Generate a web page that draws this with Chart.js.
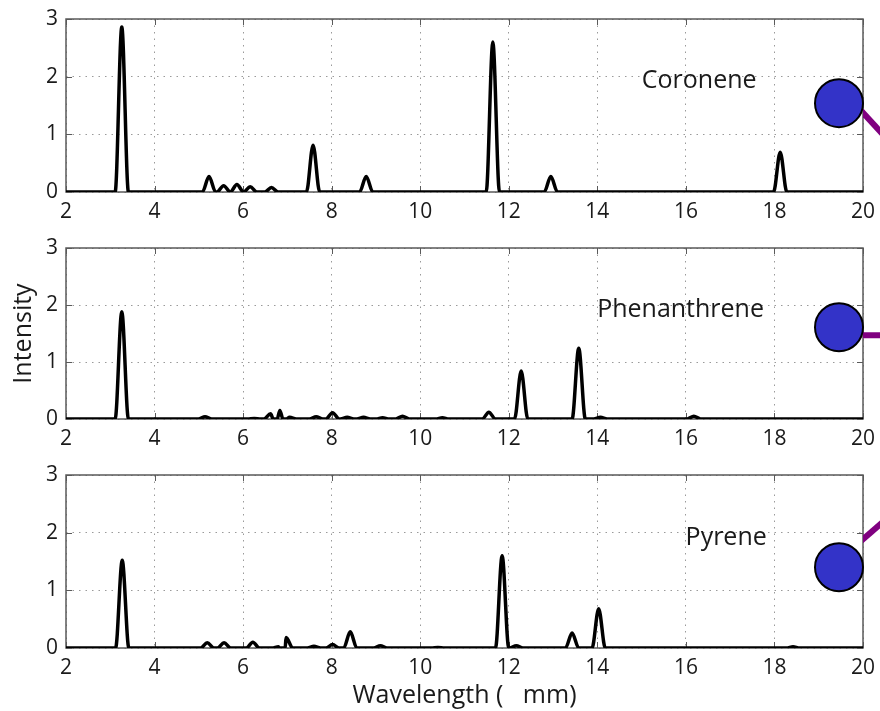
<!DOCTYPE html>
<html>
<head>
<meta charset="utf-8">
<title>PAH spectra</title>
<script src="https://cdn.jsdelivr.net/npm/chart.js@4.4.1/dist/chart.umd.min.js"></script>
<style>
  html, body { margin: 0; padding: 0; background: #fff; }
  #wrap { position: relative; width: 880px; height: 711px; overflow: hidden; }
  canvas { position: absolute; left: 0; }
</style>
</head>
<body>
<div id="wrap">
  <canvas id="coronene" width="880" height="230" style="top:0"></canvas>
  <canvas id="phenanthrene" width="880" height="230" style="top:230px"></canvas>
  <canvas id="pyrene" width="880" height="251" style="top:460px"></canvas>
</div>
<script>
// Axis ranges
const X_MIN = 2, X_MAX = 20, X_STEP = 2;
const Y_MIN = 0, Y_MAX = 3, Y_STEP = 1;

// Peak positions (wavelength, um) and heights
const coroneneX = [3.26, 5.23, 5.56, 5.86, 6.16, 6.64, 7.58, 8.78, 11.64, 12.95, 18.13];
const coroneneY = [2.86, 0.27, 0.11, 0.13, 0.09, 0.08, 0.81, 0.27, 2.60, 0.27, 0.69];

const phenanthreneX = [3.26, 5.14, 6.25, 6.62, 6.83, 7.05, 7.65, 8.02, 8.35, 8.72, 9.15, 9.60, 10.50, 11.55, 12.28, 13.58, 14.07, 16.18];
const phenanthreneY = [1.88, 0.04, 0.01, 0.09, 0.15, 0.03, 0.04, 0.11, 0.03, 0.03, 0.02, 0.05, 0.02, 0.12, 0.84, 1.24, 0.03, 0.05];

const pyreneX = [3.27, 5.19, 5.57, 6.22, 6.80, 6.97, 7.60, 8.02, 8.42, 9.10, 10.40, 11.85, 12.17, 13.43, 14.03, 18.42];
const pyreneY = [1.52, 0.09, 0.09, 0.10, 0.02, 0.18, 0.03, 0.06, 0.28, 0.04, 0.01, 1.60, 0.04, 0.26, 0.68, 0.02];

const PEAK_HALF_WIDTH = 0.15;
const FONT = '"Open Sans", "Noto Sans", sans-serif';

// Each peak becomes base - top - base; points sorted so the line runs left to right
function spectrum(xs, ys) {
  const pts = [{ x: X_MIN, y: 0 }, { x: X_MAX, y: 0 }];
  xs.forEach(function (x, i) {
    pts.push({ x: x - PEAK_HALF_WIDTH, y: 0 }, { x: x, y: ys[i] }, { x: x + PEAK_HALF_WIDTH, y: 0 });
  });
  return pts.sort(function (a, b) { return a.x - b.x; });
}

// Box, inward ticks, panel label and the cropped molecule atom on the right
const panelDecor = {
  id: 'panelDecor',
  beforeDatasetsDraw(chart) {
    const { ctx, chartArea: a, scales: { x, y } } = chart;
    ctx.save();
    ctx.strokeStyle = '#5a5a5a';
    ctx.lineWidth = 1;
    ctx.beginPath();
    x.ticks.forEach(function (t) {
      const px = Math.round(x.getPixelForValue(t.value)) + 0.5;
      ctx.moveTo(px, a.bottom); ctx.lineTo(px, a.bottom - 6);
      ctx.moveTo(px, a.top); ctx.lineTo(px, a.top + 6);
    });
    y.ticks.forEach(function (t) {
      const py = Math.round(y.getPixelForValue(t.value)) + 0.5;
      ctx.moveTo(a.left, py); ctx.lineTo(a.left + 6, py);
      ctx.moveTo(a.right, py); ctx.lineTo(a.right - 6, py);
    });
    ctx.stroke();
    ctx.lineWidth = 1.5;
    ctx.strokeRect(a.left, a.top, a.width, a.height);
    ctx.restore();
  },
  afterDatasetsDraw(chart, args, opts) {
    const { ctx, chartArea: a, scales: { x, y } } = chart;
    ctx.save();
    ctx.font = '25px ' + FONT;
    ctx.fillStyle = '#1a1a1a';
    ctx.textAlign = 'center';
    ctx.textBaseline = 'middle';
    ctx.fillText(opts.label, x.getPixelForValue(opts.labelX), y.getPixelForValue(opts.labelY));

    const r = 24;
    const cx = a.right - r;
    const cy = y.getPixelForValue(opts.atomY);
    // bond, only visible outside the axes box
    ctx.save();
    ctx.beginPath();
    ctx.rect(a.right, 0, chart.width - a.right, chart.height);
    ctx.clip();
    ctx.strokeStyle = '#800080';
    ctx.lineWidth = 6;
    ctx.beginPath();
    ctx.moveTo(cx + opts.bond[0], cy + opts.bond[1]);
    ctx.lineTo(cx + opts.bond[2], cy + opts.bond[3]);
    ctx.stroke();
    ctx.restore();

    ctx.beginPath();
    ctx.arc(cx, cy, r, 0, Math.PI * 2);
    ctx.fillStyle = '#3333c8';
    ctx.fill();
    ctx.lineWidth = 2;
    ctx.strokeStyle = '#000';
    ctx.stroke();
    ctx.restore();
  }
};

function makePanel(id, data, o) {
  return new Chart(document.getElementById(id), {
    type: 'line',
    data: {
      datasets: [{
        data: spectrum(data[0], data[1]),
        borderColor: '#000',
        borderWidth: 3.5,
        borderJoinStyle: 'round',
        pointRadius: 0,
        cubicInterpolationMode: 'monotone',
        fill: false
      }]
    },
    plugins: [panelDecor],
    options: {
      responsive: false,
      animation: false,
      events: [],
      layout: { padding: { top: o.padTop, right: 17, left: 0, bottom: 0 } },
      plugins: {
        legend: { display: false },
        tooltip: { enabled: false },
        panelDecor: o.decor
      },
      scales: {
        x: {
          type: 'linear',
          min: X_MIN, max: X_MAX,
          ticks: { stepSize: X_STEP, color: '#1a1a1a', padding: 7, maxRotation: 0, autoSkip: false, font: { size: 21, family: FONT } },
          grid: { color: '#9a9a9a', lineWidth: 1, drawTicks: false },
          border: { display: false, dash: [1.5, 5] },
          title: {
            display: !!o.xTitle,
            text: o.xTitle || '',
            color: '#1a1a1a',
            padding: { top: 0, bottom: 0 },
            font: { size: 25, family: FONT }
          },
          afterFit: function (s) {
            s.height = o.xAxisHeight;
            s.paddingLeft = 0; s.paddingRight = 0;
          }
        },
        y: {
          min: Y_MIN, max: Y_MAX,
          ticks: { stepSize: Y_STEP, color: '#1a1a1a', padding: 8, font: { size: 21, family: FONT } },
          grid: { color: '#9a9a9a', lineWidth: 1, drawTicks: false },
          border: { display: false, dash: [1.5, 5] },
          title: {
            display: !!o.yTitle,
            text: o.yTitle || '',
            color: '#1a1a1a',
            padding: { top: 9, bottom: 0 },
            font: { size: 25, family: FONT }
          },
          afterFit: function (s) {
            s.width = 66;
            s.paddingTop = 0; s.paddingBottom = 0;
          }
        }
      }
    }
  });
}

makePanel('coronene', [coroneneX, coroneneY], {
  padTop: 19, xAxisHeight: 38,
  decor: { label: 'Coronene', labelX: 16.3, labelY: 1.93, atomY: 1.54, bond: [0, -16.7, 60, 48.9] }
});
makePanel('phenanthrene', [phenanthreneX, phenanthreneY], {
  padTop: 18, xAxisHeight: 41, yTitle: 'Intensity',
  decor: { label: 'Phenanthrene', labelX: 15.88, labelY: 1.92, atomY: 1.61, bond: [0, 8, 60, 8] }
});
makePanel('pyrene', [pyreneX, pyreneY], {
  padTop: 15, xAxisHeight: 63, xTitle: 'Wavelength (   mm)',
  decor: { label: 'Pyrene', labelX: 16.91, labelY: 1.91, atomY: 1.40, bond: [0, -7.3, 60, -59.3] }
});
</script>
</body>
</html>
